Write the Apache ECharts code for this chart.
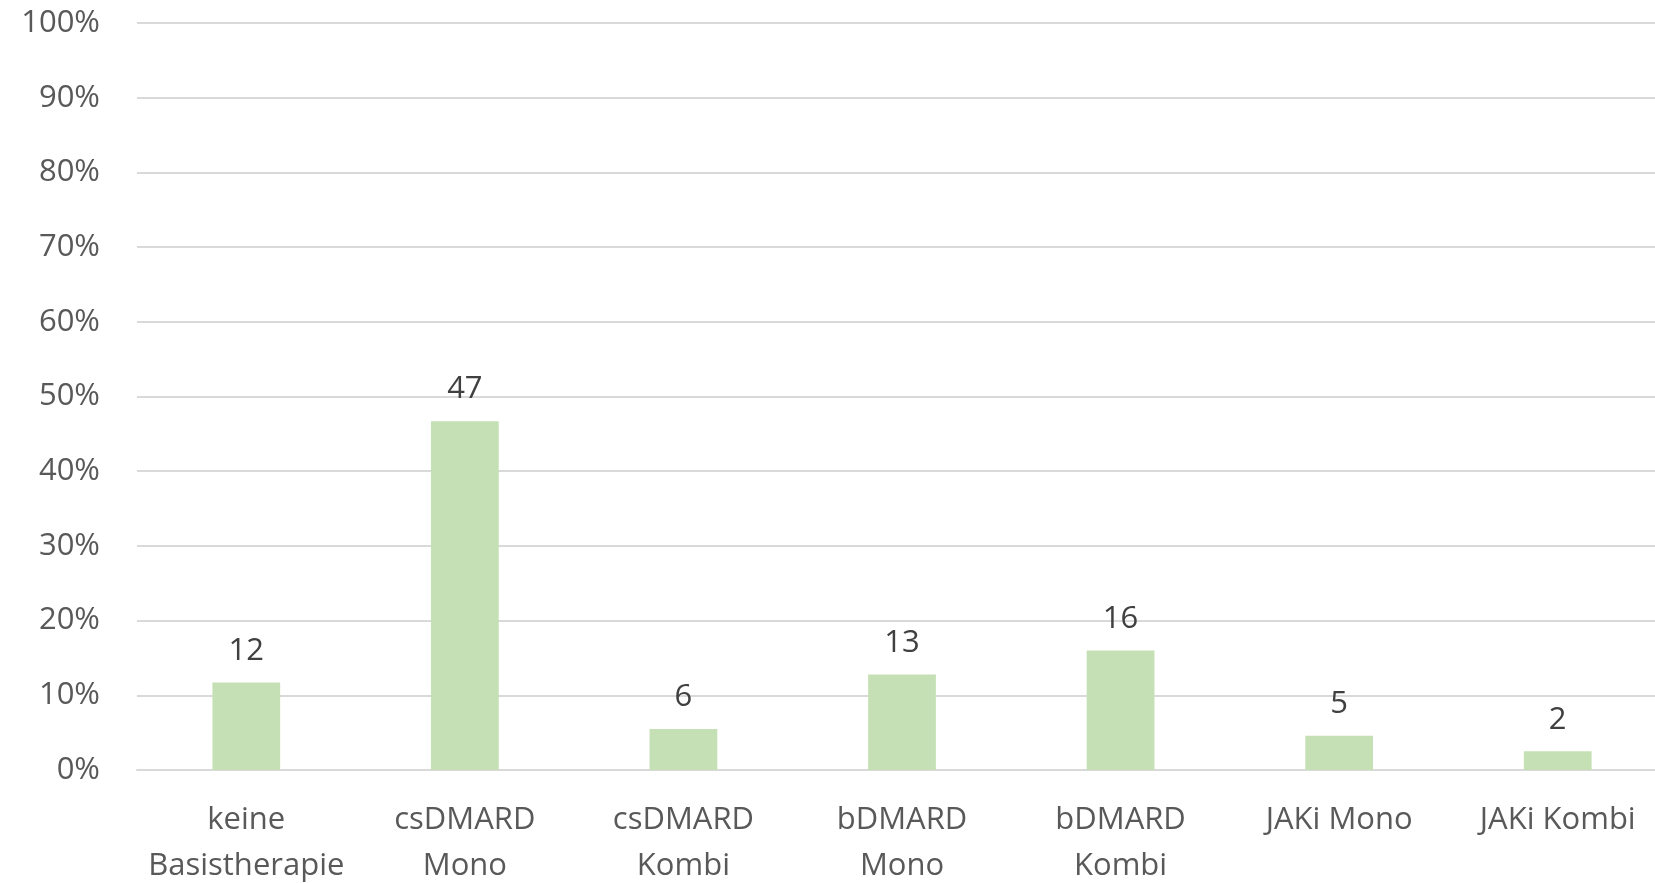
<!DOCTYPE html>
<html>
<head>
<meta charset="utf-8">
<script src="https://cdn.jsdelivr.net/npm/echarts@6/dist/echarts.min.js"></script>
<style>
  html, body { margin: 0; padding: 0; background: #fff; overflow: hidden; }
  /* Plotfläche läuft im Original etwas über den rechten Rand hinaus */
  #main { width: 1667px; height: 883px; }
</style>
</head>
<body>
<div id="main"></div>
<script>
// Kategorien (x-Achse)
var categories = [
  "keine\nBasistherapie",
  "csDMARD\nMono",
  "csDMARD\nKombi",
  "bDMARD\nMono",
  "bDMARD\nKombi",
  "JAKi Mono",
  "JAKi Kombi"
];
// Balkenhöhen in %
var shares = [11.7, 46.7, 5.5, 12.8, 16.0, 4.6, 2.5];
// gerundete Beschriftungen über den Balken
var barLabels = ["12", "47", "6", "13", "16", "5", "2"];
// Tick-Werte der y-Achse
var yMin = 0;
var yMax = 100;
var yStep = 10;

var chart = echarts.init(document.getElementById("main"));

var option = {
  animation: false,
  grid: {
    left: 137,
    right: 0,
    top: 23,
    bottom: 113,
    outerBoundsMode: "none"
  },
  xAxis: {
    type: "category",
    data: categories,
    axisLine: {
      show: true,
      lineStyle: { color: "#d9d9d9", width: 2 }
    },
    axisTick: { show: false },
    axisLabel: {
      interval: 0,
      color: "#595959",
      fontFamily: "Open Sans",
      fontSize: 31,
      lineHeight: 46,
      margin: 27
    }
  },
  yAxis: {
    type: "value",
    min: yMin,
    max: yMax,
    interval: yStep,
    axisLine: { show: false },
    axisTick: { show: false },
    splitLine: {
      lineStyle: { color: "#d9d9d9", width: 2 }
    },
    axisLabel: {
      formatter: "{value}%",
      color: "#595959",
      fontFamily: "Open Sans",
      fontSize: 31,
      margin: 37
    }
  },
  series: [
    {
      type: "bar",
      data: shares,
      barWidth: "31%",
      itemStyle: { color: "#c5e0b4" },
      label: {
        show: true,
        position: "top",
        distance: 16,
        color: "#404040",
        fontFamily: "Open Sans",
        fontSize: 31,
        formatter: function (p) {
          return barLabels[p.dataIndex];
        }
      }
    }
  ]
};
chart.setOption(option);
</script>
</body>
</html>
